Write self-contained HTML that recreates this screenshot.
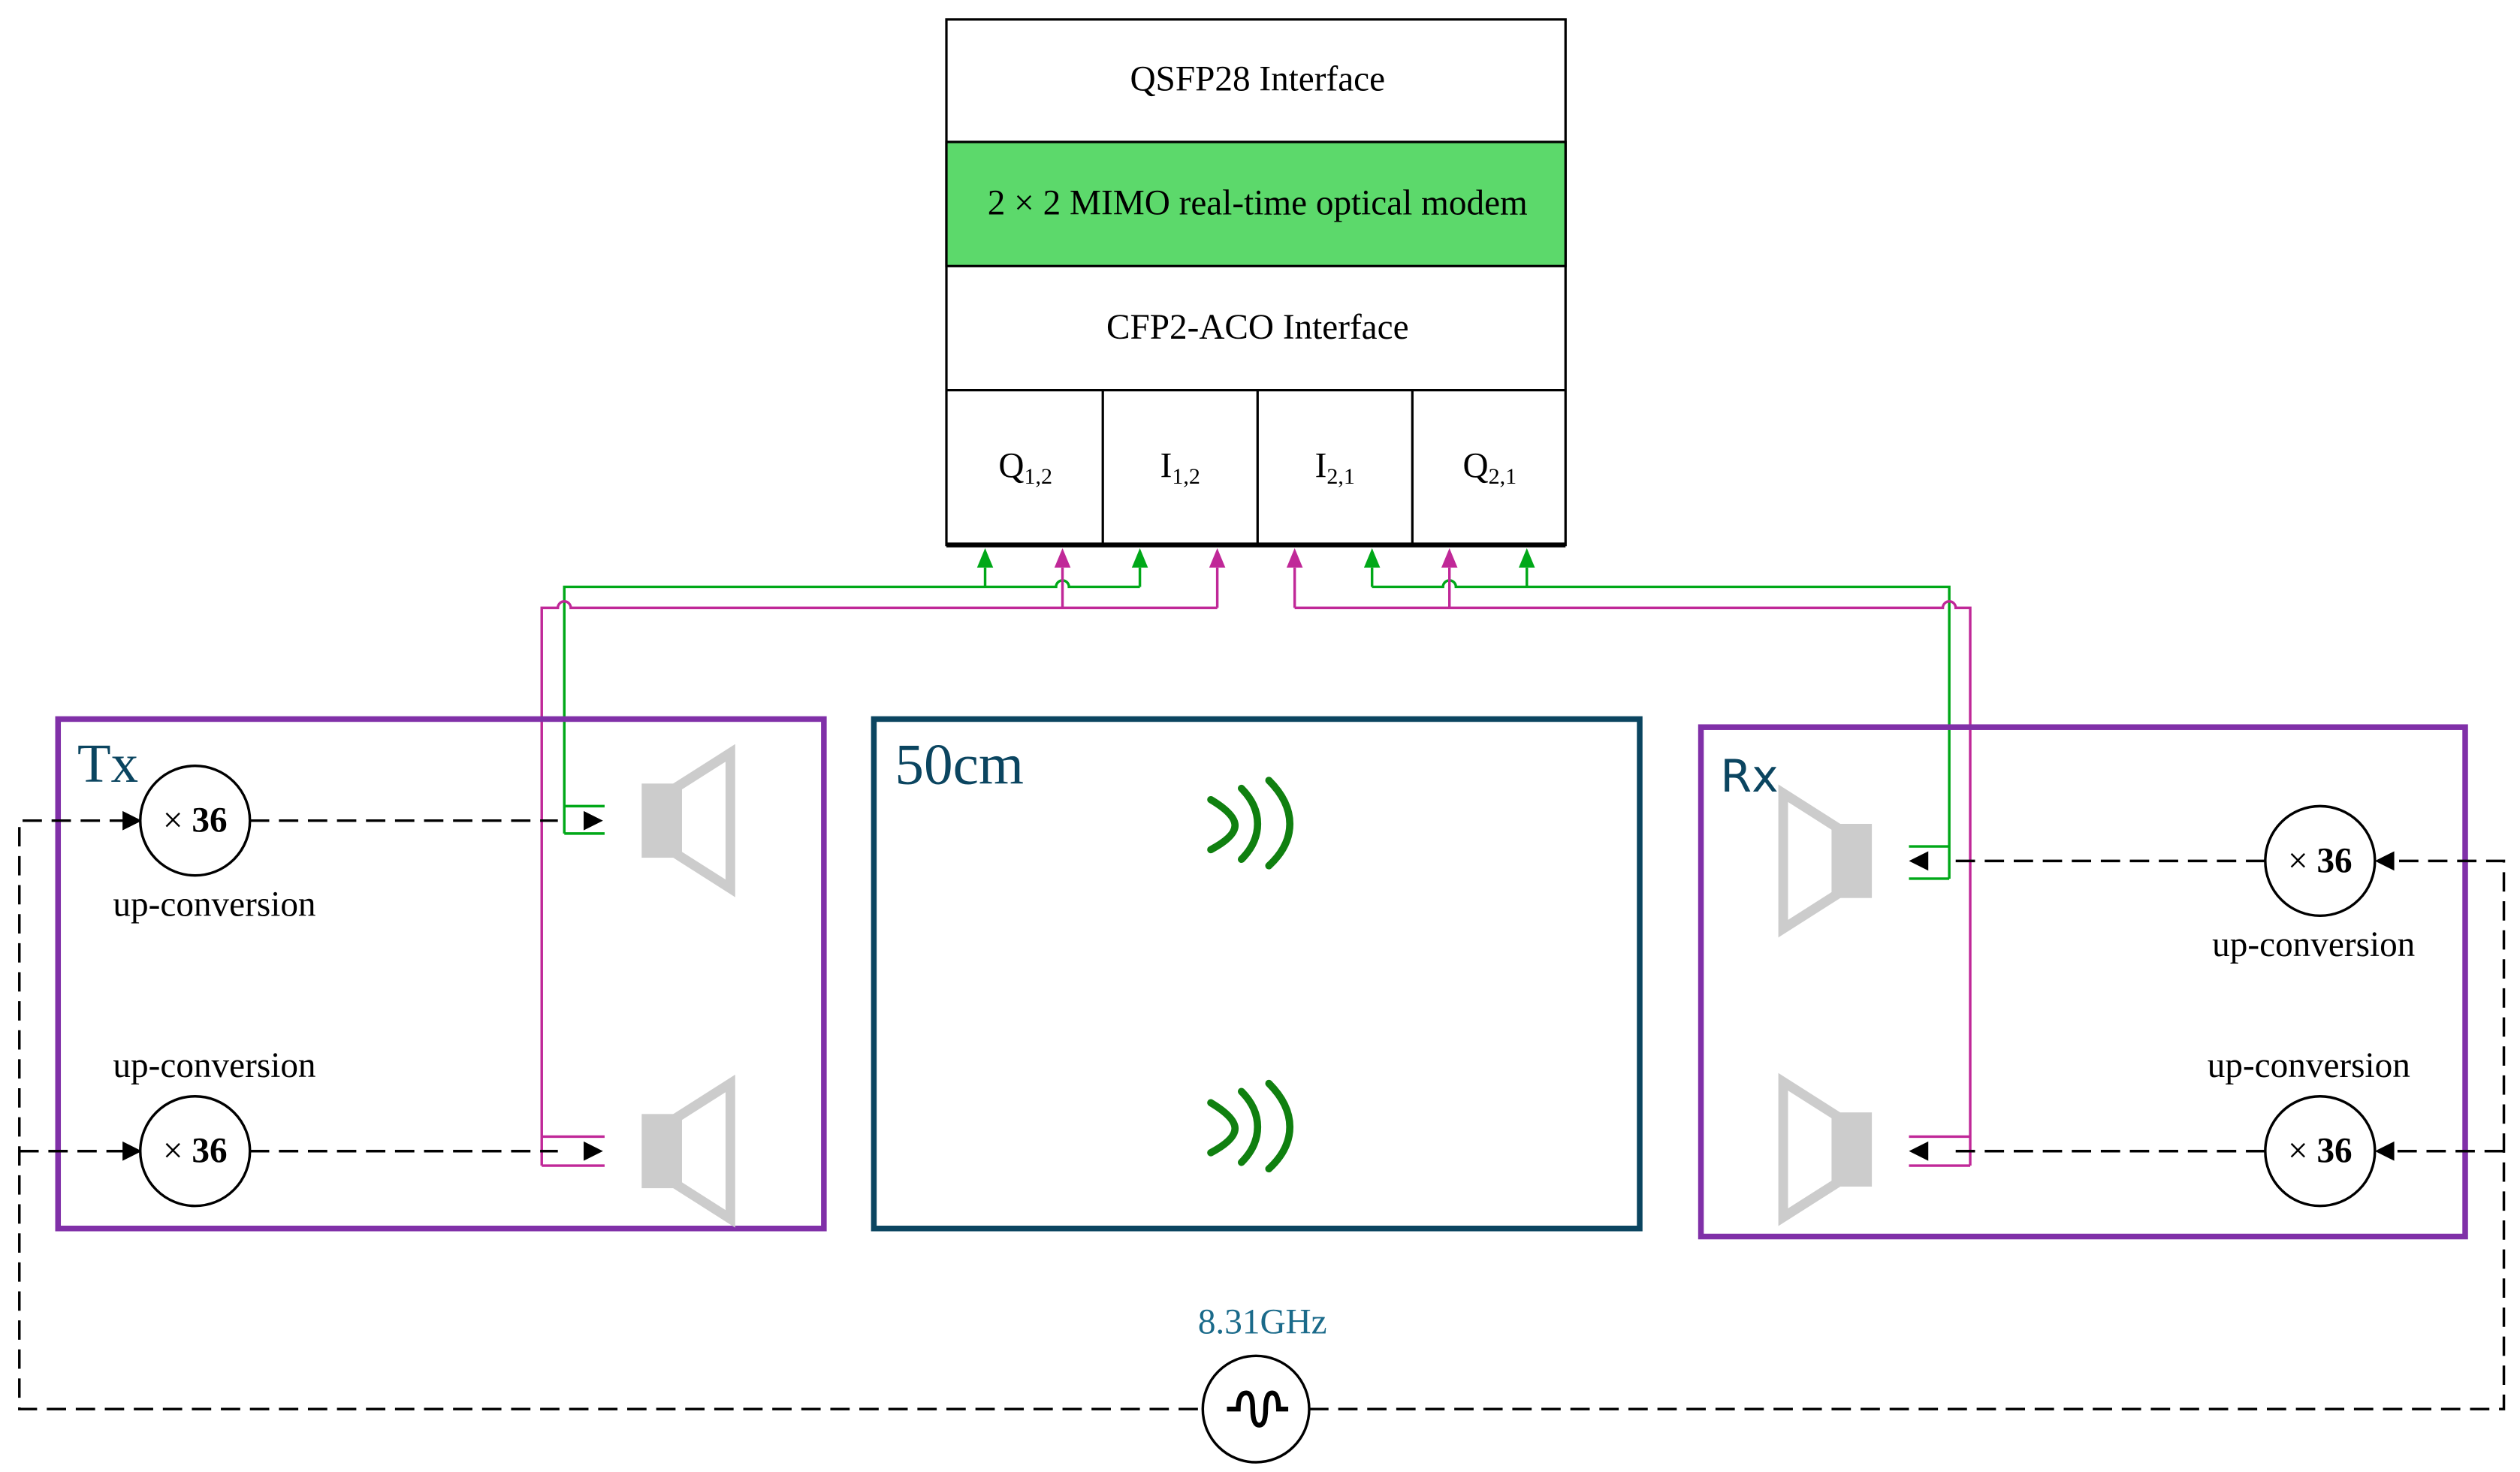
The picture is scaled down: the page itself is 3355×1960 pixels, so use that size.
<!DOCTYPE html>
<html><head><meta charset="utf-8"><style>
html,body{margin:0;padding:0;background:#fff}
svg{display:block}
text{font-family:"Liberation Serif",serif}
</style></head><body>
<svg width="3355" height="1960" viewBox="0 0 1563 913" xmlns="http://www.w3.org/2000/svg">
<!-- top box -->
<rect x="587" y="12" width="384" height="326" fill="#fff" stroke="#000" stroke-width="1.5"/>
<rect x="587" y="88" width="384" height="77" fill="#5cd96b" stroke="#000" stroke-width="1.5"/>
<line x1="587" y1="242" x2="971" y2="242" stroke="#000" stroke-width="1.5"/>
<line x1="684" y1="242" x2="684" y2="338" stroke="#000" stroke-width="1.5"/>
<line x1="780" y1="242" x2="780" y2="338" stroke="#000" stroke-width="1.5"/>
<line x1="876" y1="242" x2="876" y2="338" stroke="#000" stroke-width="1.5"/>
<line x1="587" y1="338" x2="971" y2="338" stroke="#000" stroke-width="3"/>
<g font-size="22" text-anchor="middle">
<text x="780" y="56">QSFP28 Interface</text>
<text x="780" y="133">2 × 2 MIMO real-time optical modem</text>
<text x="780" y="210">CFP2-ACO Interface</text>
<text x="636" y="296">Q<tspan font-size="14" dy="4">1,2</tspan></text>
<text x="732" y="296">I<tspan font-size="14" dy="4">1,2</tspan></text>
<text x="828" y="296">I<tspan font-size="14" dy="4">2,1</tspan></text>
<text x="924" y="296">Q<tspan font-size="14" dy="4">2,1</tspan></text>
</g>
<!-- green wiring -->
<g fill="none" stroke="#00a818" stroke-width="1.6">
<path d="M611,352 V364 M707,352 V364 M851,352 V364 M947,352 V364"/>
<path d="M350,517 V364 H655 a4,4 0 0 1 8,0 H707"/>
<path d="M851,364 H895 a4,4 0 0 1 8,0 H1209 V545"/>
<path d="M375,500 H350 M375,517 H350"/>
<path d="M1184,525 H1209 M1184,545 H1209"/>
</g>
<g fill="#00a818">
<path d="M606,352 L611,340 L616,352Z M702,352 L707,340 L712,352Z M846,352 L851,340 L856,352Z M942,352 L947,340 L952,352Z"/>
</g>
<!-- magenta wiring -->
<g fill="none" stroke="#c02898" stroke-width="1.6">
<path d="M659,352 V377 M755,352 V377 M803,352 V377 M899,352 V377"/>
<path d="M336,723 V377 H346 a4,4 0 0 1 8,0 H755"/>
<path d="M803,377 H1205 a4,4 0 0 1 8,0 H1222 V723"/>
<path d="M375,705 H336 M375,723 H336"/>
<path d="M1184,705 H1222 M1184,723 H1222"/>
</g>
<g fill="#c02898">
<path d="M654,352 L659,340 L664,352Z M750,352 L755,340 L760,352Z M798,352 L803,340 L808,352Z M894,352 L899,340 L904,352Z"/>
</g>
<!-- boxes -->
<rect x="36" y="446" width="475" height="316" fill="none" stroke="#8030a8" stroke-width="3.5"/>
<rect x="542" y="446" width="475" height="316" fill="none" stroke="#0b4560" stroke-width="3.5"/>
<rect x="1055" y="451" width="474" height="316" fill="none" stroke="#8030a8" stroke-width="3.5"/>
<text x="48" y="485" font-size="34" fill="#0b4560">Tx</text>
<text x="555" y="486" font-size="36" fill="#0b4560">50cm</text>
<text x="1067" y="491" font-size="28" fill="#0b4560" style="font-family:'DejaVu Sans',sans-serif">Rx</text>
<!-- speakers -->
<g fill="#cccccc">
<rect x="398" y="486" width="22" height="46"/>
<rect x="398" y="691" width="22" height="46"/>
<rect x="1139" y="511" width="22" height="46"/>
<rect x="1139" y="690" width="22" height="46"/>
</g>
<g fill="none" stroke="#cccccc" stroke-width="6" stroke-linejoin="miter">
<path d="M420,488 L453,467 V551 L420,530Z"/>
<path d="M420,693 L453,672 V756 L420,735Z"/>
<path d="M1139,513 L1106,492 V576 L1139,555Z"/>
<path d="M1139,692 L1106,671 V755 L1139,734Z"/>
</g>
<!-- waves -->
<g fill="none" stroke="#108010" stroke-width="4.5" stroke-linecap="round">
<path d="M751,496 Q766,505 766,512 Q766,519 751,527"/>
<path d="M770,489 Q780,499 780,511 Q780,523 770,533"/>
<path d="M787,484 Q800,497 800,511 Q800,525 787,537"/>
<path d="M751,684 Q766,693 766,700 Q766,707 751,715"/>
<path d="M770,677 Q780,687 780,699 Q780,711 770,721"/>
<path d="M787,672 Q800,685 800,699 Q800,713 787,725"/>
</g>
<!-- dashed LO lines -->
<g fill="none" stroke="#000" stroke-width="1.6" stroke-dasharray="12,6">
<path d="M80,509 H12 V874 H746"/>
<path d="M12,714 H80"/>
<path d="M155,509 H346 M155,714 H346"/>
<path d="M812,874 H1553 V534 H1485"/>
<path d="M1553,714 H1485"/>
<path d="M1405,534 H1213 M1405,714 H1213"/>
</g>
<g fill="#000">
<path d="M76,503 L88,509 L76,515Z M76,708 L88,714 L76,720Z"/>
<path d="M362,503 L374,509 L362,515Z M362,708 L374,714 L362,720Z"/>
<path d="M1485,528 L1473,534 L1485,540Z M1485,708 L1473,714 L1485,720Z"/>
<path d="M1184,534 L1196,528 L1196,540Z M1184,714 L1196,708 L1196,720Z"/>
</g>
<!-- circles -->
<g fill="#fff" stroke="#000" stroke-width="1.6">
<circle cx="121" cy="509" r="34"/>
<circle cx="121" cy="714" r="34"/>
<circle cx="1439" cy="534" r="34"/>
<circle cx="1439" cy="714" r="34"/>
<circle cx="779" cy="874" r="33"/>
</g>
<g font-size="22" text-anchor="middle">
<text x="121" y="516">× <tspan font-weight="bold">36</tspan></text>
<text x="121" y="721">× <tspan font-weight="bold">36</tspan></text>
<text x="1439" y="541">× <tspan font-weight="bold">36</tspan></text>
<text x="1439" y="721">× <tspan font-weight="bold">36</tspan></text>
<text x="133" y="568">up-conversion</text>
<text x="133" y="668">up-conversion</text>
<text x="1435" y="593">up-conversion</text>
<text x="1432" y="668">up-conversion</text>
</g>
<text x="783" y="827" font-size="22" text-anchor="middle" fill="#1a6a8a">8.31GHz</text>
<path d="M761,874 H768 Q768,864 773,864 Q777,864 777,874 Q777,884 781,884 Q785,884 785,874 Q785,864 789,864 Q793,864 793,874 H799" fill="none" stroke="#000" stroke-width="3"/>
</svg>
</body></html>
